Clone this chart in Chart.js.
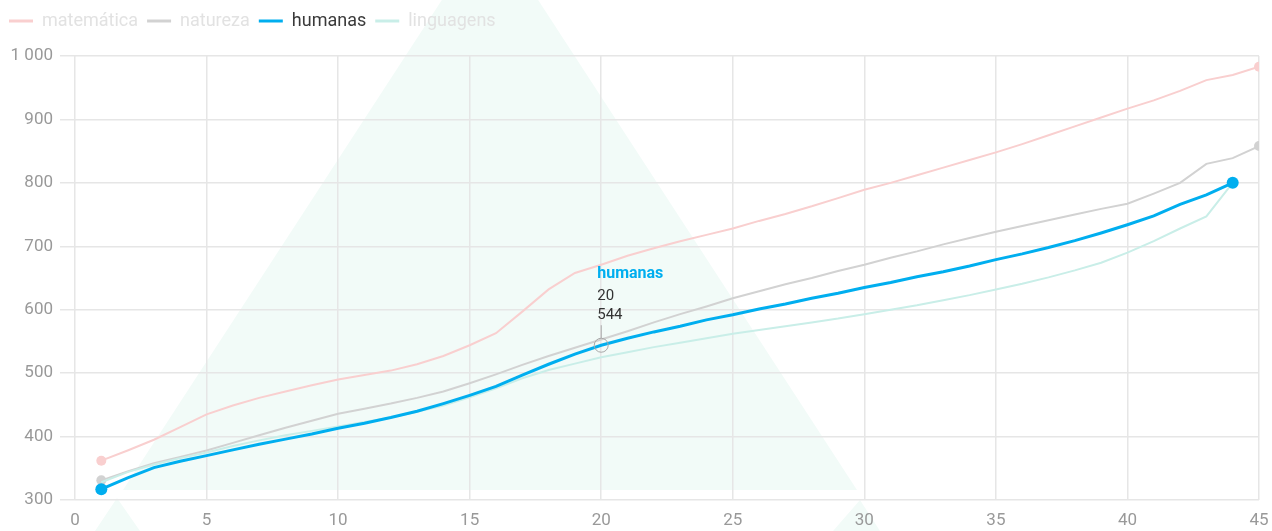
<!DOCTYPE html>
<html>
<head>
<meta charset="utf-8">
<script src="https://cdn.jsdelivr.net/npm/chart.js@4.4.1/dist/chart.umd.min.js"></script>
<style>
  body { margin: 0; background: #fff; }
  #wrap { width: 1272px; height: 531px; }
</style>
</head>
<body>
<div id="wrap"><canvas id="notasChart"></canvas></div>
<script>
const rounds = [1, 2, 3, 4, 5, 6, 7, 8, 9, 10, 11, 12, 13, 14, 15, 16, 17, 18, 19, 20, 21, 22, 23,
  24, 25, 26, 27, 28, 29, 30, 31, 32, 33, 34, 35, 36, 37, 38, 39, 40, 41, 42, 43, 44, 45];

const matematica = [362, 378, 395, 415, 435, 449, 461, 471, 481, 490, 497, 504, 514, 527, 544,
  563, 597, 632, 658, 671, 685, 697, 708, 718, 728, 740, 751, 763, 776, 789, 800, 812, 824,
  836, 848, 861, 875, 889, 903, 917, 930, 945, 962, 970, 983];
const natureza = [331, 345, 358, 368, 378, 390, 402, 414, 425, 436, 444, 452, 461, 471, 484,
  498, 513, 527, 540, 553, 566, 580, 593, 605, 618, 629, 640, 650, 661, 671, 682, 692, 703,
  713, 723, 732, 741, 750, 759, 767, 783, 800, 830, 839, 858];
const humanas = [317, 335, 351, 361, 370, 379, 388, 396, 404, 413, 421, 430, 440, 452, 465,
  479, 497, 514, 530, 544, 555, 565, 574, 584, 592, 601, 609, 618, 626, 635, 643, 652, 660,
  669, 679, 688, 698, 709, 721, 734, 748, 766, 781, 800];
const linguagens = [328, 344, 356, 366, 375, 385, 394, 402, 409, 416, 423, 430, 439, 449, 462,
  476, 492, 505, 515, 525, 533, 541, 548, 555, 562, 568, 574, 580, 586, 593, 600, 607, 615,
  623, 632, 641, 651, 662, 674, 690, 708, 728, 747, 800];

const seriesNames = ["matemática", "natureza", "humanas", "linguagens"];
const yTicks = [300, 400, 500, 600, 700, 800, 900, 1000];
const highlightIndex = 19; // humanas, round 20

const toPoints = (arr) => arr.map((v, i) => ({ x: rounds[i], y: v }));
const endRadius = (r) => (ctx) =>
  ctx.dataIndex === 0 || ctx.dataIndex === ctx.dataset.data.length - 1 ? r : 0;

// pale logo drawn behind the plot
const watermark = {
  id: "watermark",
  beforeDraw(chart) {
    const ctx = chart.ctx;
    ctx.save();
    ctx.fillStyle = "#f2fbf8";
    ctx.beginPath();
    ctx.moveTo(490, -74);
    ctx.lineTo(857, 490);
    ctx.lineTo(123, 490);
    ctx.closePath();
    ctx.fill();
    ctx.beginPath();
    ctx.moveTo(117, 498);
    ctx.lineTo(140, 531);
    ctx.lineTo(95, 531);
    ctx.closePath();
    ctx.fill();
    ctx.beginPath();
    ctx.moveTo(860, 500);
    ctx.lineTo(880, 531);
    ctx.lineTo(833, 531);
    ctx.closePath();
    ctx.fill();
    ctx.restore();
  },
};

// keep the legend block tall enough so the plot starts lower
const legendHeight = {
  id: "legendHeight",
  afterInit(chart) {
    const legend = chart.legend;
    if (!legend) return;
    const fit = legend.fit;
    legend.fit = function () {
      fit.call(this);
      this.height = 53;
    };
  },
};

// hover marker for humanas
const hoverNote = {
  id: "hoverNote",
  afterDatasetsDraw(chart) {
    const meta = chart.getDatasetMeta(2);
    const pt = meta.data[highlightIndex];
    if (!pt) return;
    const ctx = chart.ctx;
    ctx.save();
    ctx.strokeStyle = "#a8a8a8";
    ctx.lineWidth = 1;
    ctx.beginPath();
    ctx.arc(pt.x, pt.y, 7, 0, Math.PI * 2);
    ctx.stroke();
    ctx.beginPath();
    ctx.moveTo(pt.x, pt.y - 7);
    ctx.lineTo(pt.x, pt.y - 20);
    ctx.stroke();
    ctx.textAlign = "left";
    ctx.textBaseline = "middle";
    ctx.fillStyle = "#00aeef";
    ctx.font = "bold 16px Roboto";
    ctx.fillText(seriesNames[2], pt.x - 4, pt.y - 71);
    ctx.fillStyle = "#333";
    ctx.font = "15px Roboto";
    ctx.fillText(String(rounds[highlightIndex]), pt.x - 4, pt.y - 49);
    ctx.fillText(String(humanas[highlightIndex]), pt.x - 4, pt.y - 30);
    ctx.restore();
  },
};

const lineColors = ["#f9cfcf", "#d2d2d2", "#00aeef", "#c9eee8"];
const legendText = ["#e2e2e2", "#e2e2e2", "#3a3a3a", "#e2e2e2"];

new Chart(document.getElementById("notasChart"), {
  type: "line",
  data: {
    datasets: [
      {
        label: seriesNames[0],
        data: toPoints(matematica),
        borderColor: lineColors[0],
        backgroundColor: lineColors[0],
        borderWidth: 2,
        pointRadius: endRadius(5),
        pointBorderWidth: 0,
        order: 3,
      },
      {
        label: seriesNames[1],
        data: toPoints(natureza),
        borderColor: lineColors[1],
        backgroundColor: lineColors[1],
        borderWidth: 2,
        pointRadius: endRadius(5),
        pointBorderWidth: 0,
        order: 2,
      },
      {
        label: seriesNames[2],
        data: toPoints(humanas),
        borderColor: lineColors[2],
        backgroundColor: lineColors[2],
        borderWidth: 3,
        pointRadius: endRadius(6),
        pointBorderWidth: 0,
        order: 0,
      },
      {
        label: seriesNames[3],
        data: toPoints(linguagens),
        borderColor: lineColors[3],
        backgroundColor: lineColors[3],
        borderWidth: 2,
        pointRadius: endRadius(0),
        pointBorderWidth: 0,
        order: 1,
      },
    ],
  },
  options: {
    responsive: true,
    maintainAspectRatio: false,
    animation: false,
    layout: { padding: { left: 0, right: 13, top: 3, bottom: 0 } },
    plugins: {
      tooltip: { enabled: false },
      legend: {
        position: "top",
        align: "start",
        labels: {
          boxWidth: 24,
          boxHeight: 3,
          padding: 9,
          font: { family: "Roboto", size: 18 },
          generateLabels: (chart) =>
            chart.data.datasets.map((ds, i) => ({
              text: ds.label,
              fillStyle: lineColors[i],
              strokeStyle: lineColors[i],
              lineWidth: 0,
              fontColor: legendText[i],
              hidden: false,
              datasetIndex: i,
            })),
        },
      },
    },
    scales: {
      x: {
        type: "linear",
        min: 0,
        max: 45,
        afterFit: (scale) => {
          scale.height = 31;
          scale.paddingRight = 0;
          scale.paddingLeft = 0;
        },
        ticks: {
          stepSize: 5,
          color: "#999",
          padding: 11,
          font: { family: "Roboto", size: 17 },
        },
        grid: { color: "#e6e6e6", lineWidth: 1.5, drawTicks: false },
        border: { display: false },
      },
      y: {
        min: 300,
        max: 1000,
        afterFit: (scale) => {
          scale.width = 75;
        },
        afterBuildTicks: (scale) => {
          scale.ticks = yTicks.map((v) => ({ value: v }));
        },
        ticks: {
          color: "#999",
          padding: 7,
          font: { family: "Roboto", size: 17 },
          callback: (v) => String(v).replace(/\B(?=(\d{3})+(?!\d))/g, " "),
        },
        grid: { color: "#e6e6e6", lineWidth: 1.5, tickLength: 15 },
        border: { display: false },
      },
    },
  },
  plugins: [watermark, legendHeight, hoverNote],
});
</script>
</body>
</html>
